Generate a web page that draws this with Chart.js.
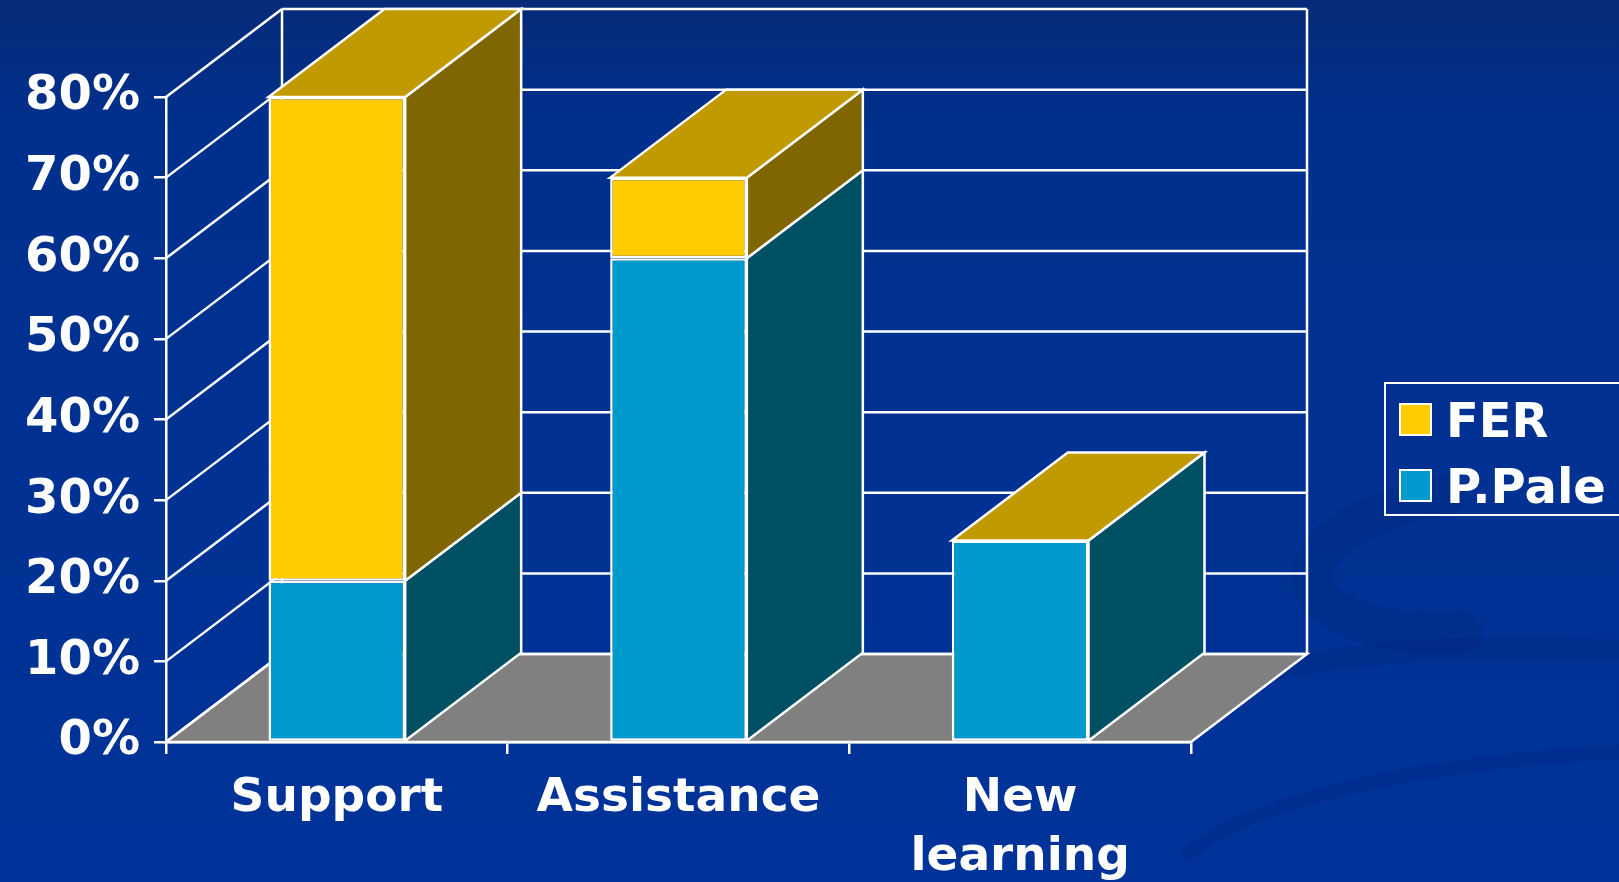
<!DOCTYPE html>
<html><head><meta charset="utf-8">
<script src="https://cdn.jsdelivr.net/npm/chart.js@4.4.1/dist/chart.umd.min.js"></script>
<style>html,body{margin:0;padding:0;background:#00339a;overflow:hidden}#wrap{width:1619px;height:882px;position:relative}canvas{display:block}</style>
</head><body><div id="wrap"><canvas id="c" width="1619" height="882"></canvas></div>
<script>
// ---- data ----
const categories = ['Support', 'Assistance', ['New', 'learning']];
const seriesNames = ['P.Pale', 'FER'];          // stacking order: bottom -> top
const paleValues = [20, 60, 25];
const ferValues = [60, 10, 0];
const yTickStep = 10;
const yMax = 80;
const legendOrder = ['FER', 'P.Pale'];

// ---- styles ----
const FONT = 'DejaVu Sans';
const DX = 116, DY = -88;
const LW = 2.5;
const frontColors = { 'P.Pale': '#009BCC', 'FER': '#FFCC00' };
const sideColors  = { 'P.Pale': '#005064', 'FER': '#806600' };
const topColors   = { 'P.Pale': '#007CA3', 'FER': '#C09A00' };

function poly(ctx, pts, fill) {
  ctx.beginPath();
  ctx.moveTo(pts[0][0], pts[0][1]);
  for (let i = 1; i < pts.length; i++) ctx.lineTo(pts[i][0], pts[i][1]);
  ctx.closePath();
  if (fill) { ctx.fillStyle = fill; ctx.fill(); }
  ctx.stroke();
}
function line(ctx, x1, y1, x2, y2) {
  ctx.beginPath(); ctx.moveTo(x1, y1); ctx.lineTo(x2, y2); ctx.stroke();
}

const threeD = {
  id: 'threeD',
  beforeDraw(chart) {
    const { ctx, chartArea: a, scales: { y } } = chart;
    const W = chart.width, H = chart.height;
    ctx.save();
    // background
    const g = ctx.createLinearGradient(0, 0, 0, H);
    g.addColorStop(0, '#062a78');
    g.addColorStop(0.15, '#00308d');
    g.addColorStop(1, '#003399');
    ctx.fillStyle = g;
    ctx.fillRect(0, 0, W, H);
    // subtle swirls
    ctx.lineCap = 'round';
    ctx.strokeStyle = 'rgba(0,30,110,0.22)';
    ctx.lineWidth = 40;
    ctx.beginPath(); ctx.ellipse(1480, 560, 170, 70, -0.12, Math.PI * 0.55, Math.PI * 1.45); ctx.stroke();
    ctx.lineWidth = 22;
    ctx.strokeStyle = 'rgba(0,30,110,0.2)';
    ctx.beginPath(); ctx.ellipse(1600, 780, 480, 130, 0.05, Math.PI * 1.08, Math.PI * 1.55); ctx.stroke();
    ctx.lineWidth = 14;
    ctx.strokeStyle = 'rgba(0,30,110,0.2)';
    ctx.beginPath(); ctx.ellipse(1720, 900, 560, 150, 0.0, Math.PI * 1.1, Math.PI * 1.5); ctx.stroke();

    // walls and floor
    ctx.strokeStyle = '#ffffff';
    ctx.lineWidth = LW;
    ctx.lineCap = 'butt';
    const y0 = y.getPixelForValue(0);
    poly(ctx, [[a.left, y0], [a.right, y0], [a.right + DX, y0 + DY], [a.left + DX, y0 + DY]], '#808080');
    y.ticks.forEach(t => {
      const py = y.getPixelForValue(t.value);
      line(ctx, a.left, py, a.left + DX, py + DY);
      line(ctx, a.left + DX, py + DY, a.right + DX, py + DY);
    });
    line(ctx, a.left + DX, a.top + DY, a.left + DX, y0 + DY);
    line(ctx, a.right + DX, a.top + DY, a.right + DX, y0 + DY);
    ctx.restore();
  },
  beforeDatasetsDraw(chart) {
    const { ctx } = chart;
    const n = chart.data.labels.length;
    const nd = chart.data.datasets.length;
    ctx.save();
    ctx.strokeStyle = '#ffffff';
    ctx.lineWidth = LW;
    ctx.lineJoin = 'miter';
    for (let i = 0; i < n; i++) {
      let topEl = null;
      for (let d = 0; d < nd; d++) {
        const ds = chart.data.datasets[d];
        const el = chart.getDatasetMeta(d).data[i];
        const p = el.getProps(['x', 'y', 'base', 'width'], true);
        const R = p.x + p.width / 2;
        const T = Math.min(p.y, p.base), B = Math.max(p.y, p.base);
        if (B - T > 0.5) poly(ctx, [[R, B], [R, T], [R + DX, T + DY], [R + DX, B + DY]], sideColors[ds.label]);
        topEl = { p, name: ds.label };
      }
      if (topEl) {
        const p = topEl.p;
        const L = p.x - p.width / 2, R = p.x + p.width / 2;
        const T = Math.min(p.y, p.base);
        poly(ctx, [[L, T], [R, T], [R + DX, T + DY], [L + DX, T + DY]], topColors[topEl.name]);
      }
    }
    ctx.restore();
  },
  afterDraw(chart) {
    const { ctx } = chart;
    ctx.save();
    ctx.strokeStyle = '#ffffff';
    ctx.lineWidth = 2;
    ctx.strokeRect(1385, 383, 280, 132);
    ctx.font = 'bold 48px "' + FONT + '"';
    ctx.textBaseline = 'alphabetic';
    ctx.textAlign = 'left';
    const rows = [{ sy: 404, by: 437 }, { sy: 470, by: 503 }];
    legendOrder.forEach((name, k) => {
      const r = rows[k];
      ctx.fillStyle = frontColors[name];
      ctx.fillRect(1400, r.sy, 31, 31);
      ctx.strokeRect(1400, r.sy, 31, 31);
      ctx.fillStyle = '#ffffff';
      ctx.fillText(name, 1446, r.by);
    });
    ctx.restore();
  }
};

const valuesByName = { 'P.Pale': paleValues, 'FER': ferValues };

new Chart(document.getElementById('c'), {
  type: 'bar',
  data: {
    labels: categories,
    datasets: seriesNames.map(name => ({
      label: name,
      data: valuesByName[name],
      backgroundColor: frontColors[name],
      borderColor: '#ffffff',
      borderWidth: 2.5,
      borderSkipped: false,
      inflateAmount: 0,
      categoryPercentage: 1,
      barPercentage: 0.4
    }))
  },
  options: {
    responsive: false,
    animation: false,
    devicePixelRatio: 1,
    layout: { padding: { left: 0, right: 428, top: 97, bottom: 0 } },
    plugins: { legend: { display: false }, tooltip: { enabled: false } },
    scales: {
      x: {
        stacked: true,
        offset: true,
        grid: { offset: true, drawOnChartArea: false, color: '#ffffff', lineWidth: LW, tickLength: 12 },
        border: { color: '#ffffff', width: LW },
        ticks: {
          color: '#ffffff', padding: 16, maxRotation: 0, autoSkip: false,
          font: { family: FONT, weight: 'bold', size: 47, lineHeight: 1.24 }
        },
        afterFit(s) { s.height = 140; }
      },
      y: {
        stacked: true,
        min: 0, max: yMax,
        grid: { drawOnChartArea: false, color: '#ffffff', lineWidth: LW, tickLength: 12 },
        border: { color: '#ffffff', width: LW },
        ticks: {
          stepSize: yTickStep, color: '#ffffff', padding: 14,
          font: { family: FONT, weight: 'bold', size: 48 },
          callback: v => v + '%'
        },
        afterFit(s) { s.width = 166; }
      }
    }
  },
  plugins: [threeD]
});
</script>
</body></html>
